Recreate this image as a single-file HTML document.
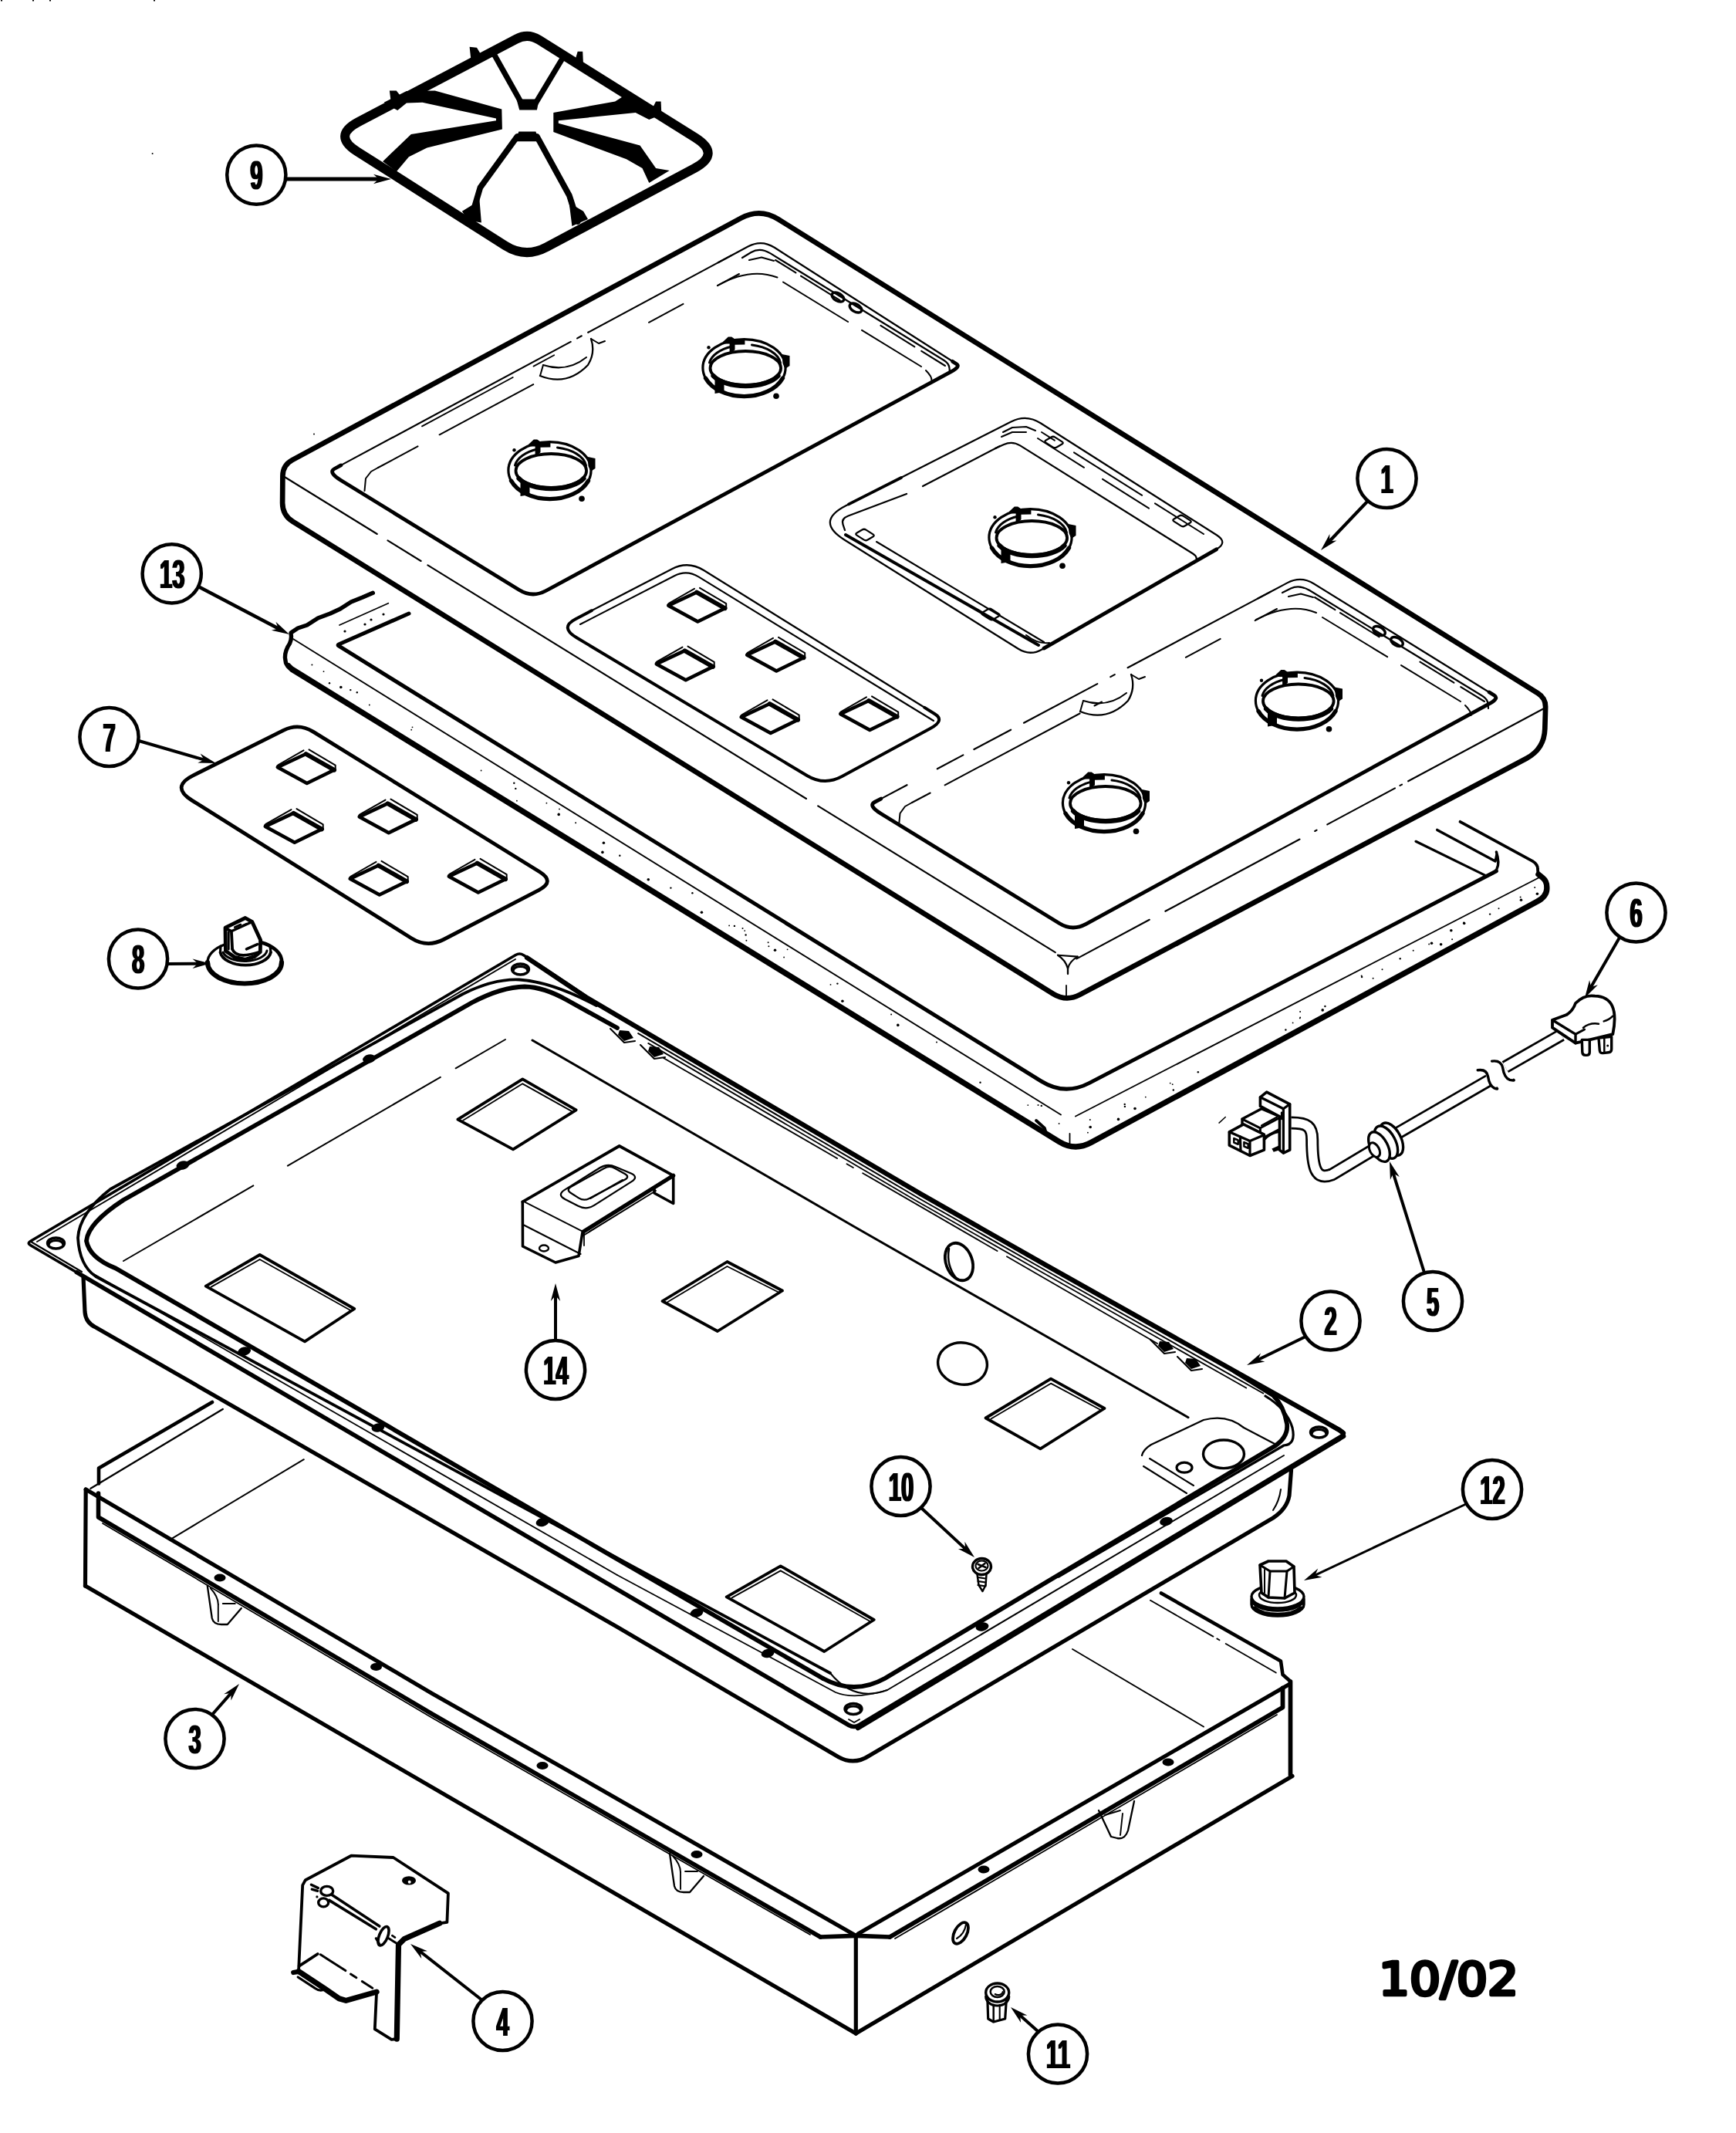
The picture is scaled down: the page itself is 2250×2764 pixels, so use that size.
<!DOCTYPE html>
<html><head><meta charset="utf-8"><title>Cooktop parts diagram</title>
<style>
html,body{margin:0;padding:0;background:#fff}
svg{display:block}
.lb{font-family:"Liberation Sans","DejaVu Sans",sans-serif;font-weight:bold;font-size:52px;fill:#000}
.dt{font-family:"DejaVu Sans","Liberation Sans",sans-serif;font-weight:normal;font-size:58px;fill:#000;stroke:#000;stroke-width:4.4;stroke-linejoin:round;stroke-linecap:round}
path,ellipse{stroke-linecap:round;stroke-linejoin:round}
</style></head><body>
<svg width="2250" height="2764" viewBox="0 0 2250 2764">
<defs><filter id="fat" x="-10%" y="-10%" width="120%" height="120%"><feMorphology operator="dilate" radius="1.3 0.3"/></filter></defs>
<rect width="2250" height="2764" fill="#fff"/>
<path d="M669.1 50.6 Q684.2 42.7 698.6 51.7 L901.1 178.3 Q935 199.5 899.7 218.3 L708.3 320.3 Q680.9 334.9 654.7 318.3 L462.8 196.2 Q430.7 175.8 464.3 158.1 Z" fill="none" stroke="#000" stroke-width="12" />
<path d="M608.6 60.8 L618 61.7 L625.4 74.1 L610.7 79.9 Z" fill="#000"/>
<path d="M504.9 117.5 L513.7 117.5 L522.5 128.4 L507 134.3 Z" fill="#000"/>
<path d="M748.7 66.7 L755.2 66.7 L756.1 85.8 L744.3 81.4 Z" fill="#000"/>
<path d="M850.1 131.4 L856.6 131.4 L857.4 149 L844.2 143.1 Z" fill="#000"/>
<path d="M640 69.7 L676.2 134.3 L693.8 134.3 L728.2 77" fill="none" stroke="#000" stroke-width="7.2" />
<path d="M669.4 128.4 L698.8 128.4 L695.9 142.5 L673.2 142.5 Z" fill="#000"/>
<path d="M609.8 285.6 L622.4 243 L670.3 176.9 L695.9 176.9 L737.9 253.3 L748.7 287.1" fill="none" stroke="#000" stroke-width="7.7" />
<path d="M672.4 170.4 L694.4 170.4 L698.8 183.3 L667.4 183.3 Z" fill="#000"/>
<path d="M598.9 273.8 L618 262.1 L625.4 235.6 L621 253.3 L623.9 288.5 L606.3 285.6 Z" fill="#000"/>
<path d="M734.1 247.4 L741.4 265 L756.1 273.8 L762 284.1 L741.4 292.9 L737.9 265 Z" fill="#000"/>
<path d="M563.7 117.5 L650.3 141.6 L650.9 167.5 L553.4 191.6 L529.9 203.3 L513.7 222.4 L496.1 209.2 L532.8 173.9 L643 156.3 L643 153.4 L547.5 132.8 L526.9 133.4 L515.2 143.1 L497.6 132.8 L526.9 118.1 Z" fill="#000"/>
<path d="M717.3 146 L797.2 131.4 L809 124 L856 149 L841.3 154.9 L823.7 146 L723.8 156.3 L723.8 159.8 L829.5 188.6 L850.1 218 L867.7 221 L841.3 237.1 L832.5 218 L811.9 206.3 L717.3 171 Z" fill="#000"/>
<path d="M366.4 616.7 Q366.5 602.7 378.8 596.1 L960.4 282.6 Q985 269.3 1008.8 284.1 L1993.3 898.4 Q2003.5 904.8 2003.1 916.8 L2002.3 944.5 Q2001.5 970.5 1978.5 982.7 L1399.7 1288.9 Q1382 1298.3 1365 1287.8 L379.6 675.9 Q366 667.5 366.1 651.5 Z" fill="none" stroke="#000" stroke-width="6.7" />
<path d="M368 617.5 L488.8 692" fill="none" stroke="#000" stroke-width="2.1" />
<path d="M502.5 700.4 L545.6 727" fill="none" stroke="#000" stroke-width="2.1" />
<path d="M554.4 732.4 L1045 1035" fill="none" stroke="#000" stroke-width="2.1" />
<path d="M1060.2 1044.4 L1367.8 1234.1" fill="none" stroke="#000" stroke-width="2.1" />
<path d="M2003 917 L1825.1 1012.3" fill="none" stroke="#000" stroke-width="2.1" />
<path d="M1817 1016.6 L1814.5 1017.9" fill="none" stroke="#000" stroke-width="2.1" />
<path d="M1808 1021.4 L1720.3 1068.4" fill="none" stroke="#000" stroke-width="2.1" />
<path d="M1706.6 1075.7 L1704.2 1077" fill="none" stroke="#000" stroke-width="2.1" />
<path d="M1684.5 1087.5 L1510.4 1180.8" fill="none" stroke="#000" stroke-width="2.1" />
<path d="M1489.8 1191.8 L1395.4 1242.4" fill="none" stroke="#000" stroke-width="2.1" />
<path d="M1384 1254 L1384 1262" fill="none" stroke="#000" stroke-width="2.3" />
<path d="M1382 1277 L1382 1290" fill="none" stroke="#000" stroke-width="1.8" />
<path d="M1371 1237.7 L1396.6 1239.6" fill="none" stroke="#000" stroke-width="2.1" />
<path d="M1371 1237.7 Q1381 1244 1384 1255 Q1386 1246 1396.6 1239.6" fill="none" stroke="#000" stroke-width="2.2"/>
<path d="M441.9 602.9 L433.4 607.5 Q425 612 442 622.5 L673 764.5 Q690 775 707.6 765.5 L1232.7 481.7 Q1245 475 1239.8 471.7 L1234.7 468.4 " fill="none" stroke="#000" stroke-width="4.8"/>
<path d="M441.9 602.9 L739.7 442.9" fill="none" stroke="#000" stroke-width="2.2" />
<path d="M748.1 438.4 L753.8 435.3" fill="none" stroke="#000" stroke-width="2.2" />
<path d="M762.2 430.8 L947.7 331.1" fill="none" stroke="#000" stroke-width="2.2" />
<path d="M930.8 340.2 L969.4 319.5 Q987 310 1003.8 320.8 L1237.3 470 " fill="none" stroke="#000" stroke-width="2.2"/>
<path d="M962 334 L973.5 327 Q985 320 998.6 328.4 L1223.2 466.8 Q1230 471 1230.5 477 L1231 483 " fill="none" stroke="#000" stroke-width="2.2"/>
<path d="M1005 337 L1031.4 353.4" fill="none" stroke="#000" stroke-width="2.1" />
<path d="M1038 357.6 L1088.6 389.1" fill="none" stroke="#000" stroke-width="2.1" />
<path d="M1141.4 421.9 L1185.4 449.3" fill="none" stroke="#000" stroke-width="2.1" />
<path d="M1194.2 454.8 L1225 474" fill="none" stroke="#000" stroke-width="2.1" />
<path d="M971 337 L987 333.5 L1003 338" fill="none" stroke="#000" stroke-width="2.1" />
<path d="M472.5 636 L474 620 L481 611 L490 606" fill="none" stroke="#000" stroke-width="2" />
<path d="M490 606 L541.5 578.4" fill="none" stroke="#000" stroke-width="2" />
<path d="M569.6 563.3 L691.2 498.1" fill="none" stroke="#000" stroke-width="2" />
<path d="M841 417.8 L885.5 393.9" fill="none" stroke="#000" stroke-width="2" />
<path d="M929.9 370.1 L958 355" fill="none" stroke="#000" stroke-width="2" />
<path d="M930 370 Q972 346 1007.5 359.5" fill="none" stroke="#000" stroke-width="2"/>
<path d="M1015 365.5 L1099.1 417" fill="none" stroke="#000" stroke-width="2" />
<path d="M1117 427.9 L1194 475" fill="none" stroke="#000" stroke-width="2" />
<path d="M1200 480 Q1208 488 1207.5 493" fill="none" stroke="#000" stroke-width="2"/>
<path d="M547 552.4 L664.7 489" fill="none" stroke="#000" stroke-width="1.8" />
<path d="M691.5 474.6 L718.2 460.2" fill="none" stroke="#000" stroke-width="1.8" />
<ellipse cx="712.5" cy="609.6" rx="53.6" ry="37" fill="none" stroke="#000" stroke-width="3.2" />
<path d="M662.5 623 A53.6 37 0 0 0 762.5 623" fill="none" stroke="#000" stroke-width="5.4"/>
<path d="M667.5 603 A47 27 0 0 1 696.5 582" fill="none" stroke="#000" stroke-width="3"/>
<path d="M722.5 580 A47 27 0 0 1 759.5 603" fill="none" stroke="#000" stroke-width="3"/>
<ellipse cx="714.3" cy="610" rx="45.8" ry="22" fill="none" stroke="#000" stroke-width="3.8" />
<path d="M672.5 620 A45.8 22 0 0 0 756.5 620" fill="none" stroke="#000" stroke-width="6.2"/>
<path d="M684.9 575.9 L691.8 569.4 L696.2 569.4 L701.4 572.9 L713.4 572.9 L713.4 579.4 L700.5 579.8 L700.5 586.3 L696.2 589.7 L693.6 589.7 L693.6 578.5 L688.4 578.5 Z" fill="#000"/>
<path d="M761.5 592 L771.5 594 L771.5 607 L765.5 611 L762.5 604 Z" fill="#000"/>
<path d="M674.5 625 L686.5 629 L686.5 641 L674.5 643 Z" fill="#000"/>
<circle cx="754" cy="646.3" r="3.8" fill="#000"/>
<circle cx="666.5" cy="583.3" r="2.2" fill="#000"/>
<ellipse cx="964.5" cy="476.6" rx="53.6" ry="37" fill="none" stroke="#000" stroke-width="3.2" />
<path d="M914.5 490 A53.6 37 0 0 0 1014.5 490" fill="none" stroke="#000" stroke-width="5.4"/>
<path d="M919.5 470 A47 27 0 0 1 948.5 449" fill="none" stroke="#000" stroke-width="3"/>
<path d="M974.5 447 A47 27 0 0 1 1011.5 470" fill="none" stroke="#000" stroke-width="3"/>
<ellipse cx="966.3" cy="477" rx="45.8" ry="22" fill="none" stroke="#000" stroke-width="3.8" />
<path d="M924.5 487 A45.8 22 0 0 0 1008.5 487" fill="none" stroke="#000" stroke-width="6.2"/>
<path d="M936.9 442.9 L943.8 436.4 L948.2 436.4 L953.4 439.9 L965.4 439.9 L965.4 446.4 L952.5 446.8 L952.5 453.3 L948.2 456.7 L945.6 456.7 L945.6 445.5 L940.4 445.5 Z" fill="#000"/>
<path d="M1013.5 459 L1023.5 461 L1023.5 474 L1017.5 478 L1014.5 471 Z" fill="#000"/>
<path d="M926.5 492 L938.5 496 L938.5 508 L926.5 510 Z" fill="#000"/>
<circle cx="1006" cy="513.3" r="3.8" fill="#000"/>
<circle cx="918.5" cy="450.3" r="2.2" fill="#000"/>
<path d="M700 487 Q735 501 762 473 Q772 457 766 439" fill="none" stroke="#000" stroke-width="2.3"/>
<path d="M704 473 Q735 483 760 463" fill="none" stroke="#000" stroke-width="2.1"/>
<path d="M766 439 L776 445 L784 442" fill="none" stroke="#000" stroke-width="2" />
<path d="M700 487 L704 473" fill="none" stroke="#000" stroke-width="2" />
<ellipse cx="1086" cy="385" rx="8.5" ry="5" fill="none" stroke="#000" stroke-width="3.4" transform="rotate(30 1086 385)" />
<ellipse cx="1109" cy="399" rx="8.5" ry="5" fill="none" stroke="#000" stroke-width="3.4" transform="rotate(30 1109 399)" />
<path d="M1094.4 699.5 Q1056.3 675.6 1096.4 655.2 L1310.4 546.5 Q1330 536.5 1348.6 548.3 L1576.8 693.3 Q1592 703 1576.4 712 L1350.6 841.4 Q1335 850.4 1319.8 840.8 Z" fill="none" stroke="#000" stroke-width="2.3"/>
<path d="M1576.6 711.8 L1353 840.1" fill="none" stroke="#000" stroke-width="4.8" />
<path d="M1100 653.4 L1168 619" fill="none" stroke="#000" stroke-width="3.8" />
<path d="M1095 687 L1092.5 679.5 Q1090 672 1099.4 668.5 L1175 640 " fill="none" stroke="#000" stroke-width="2.3"/>
<path d="M1196 630 L1296 578" fill="none" stroke="#000" stroke-width="2.2" />
<path d="M1290 581 L1301.1 576 Q1312 571 1322.2 577.4 L1545.8 717.3 Q1550 720 1550.5 722.5 L1551 725 " fill="none" stroke="#000" stroke-width="2.3"/>
<path d="M1096 693 L1346 836" fill="none" stroke="#000" stroke-width="4" />
<path d="M1136 702 L1353 832" fill="none" stroke="#000" stroke-width="2.1" />
<path d="M1330 823 Q1345 835 1360 833" fill="none" stroke="#000" stroke-width="2.1"/>
<path d="M1350 560 L1366.8 570.6" fill="none" stroke="#000" stroke-width="2" />
<path d="M1392 586.4 L1480.2 641.8" fill="none" stroke="#000" stroke-width="2" />
<path d="M1497 652.4 L1560 692" fill="none" stroke="#000" stroke-width="2" />
<path d="M1345 568 L1405 605.8" fill="none" stroke="#000" stroke-width="2" />
<path d="M1429 620.9 L1489 658.7" fill="none" stroke="#000" stroke-width="2" />
<path d="M1300 560 L1312 554 L1330 553 L1342 558" fill="none" stroke="#000" stroke-width="2" />
<path d="M1298 566 L1312 560 L1330 560" fill="none" stroke="#000" stroke-width="2" />
<path d="M1355.5 573.6 Q1353 572 1355.6 570.5 L1362.4 566.5 Q1365 565 1367.5 566.6 L1376.5 572.4 Q1379 574 1376.4 575.5 L1369.6 579.5 Q1367 581 1364.5 579.4 Z" fill="none" stroke="#000" stroke-width="2.3" />
<path d="M1521.5 675.6 Q1519 674 1521.6 672.5 L1528.4 668.5 Q1531 667 1533.5 668.6 L1542.5 674.4 Q1545 676 1542.4 677.5 L1535.6 681.5 Q1533 683 1530.5 681.4 Z" fill="none" stroke="#000" stroke-width="2.3" />
<path d="M1110.5 693.6 Q1108 692 1110.6 690.5 L1117.4 686.5 Q1120 685 1122.5 686.6 L1131.5 692.4 Q1134 694 1131.4 695.5 L1124.6 699.5 Q1122 701 1119.5 699.4 Z" fill="none" stroke="#000" stroke-width="2.3" />
<path d="M1273.5 796.6 Q1271 795 1273.6 793.5 L1280.4 789.5 Q1283 788 1285.5 789.6 L1294.5 795.4 Q1297 797 1294.4 798.5 L1287.6 802.5 Q1285 804 1282.5 802.4 Z" fill="none" stroke="#000" stroke-width="2.3" />
<ellipse cx="1335.5" cy="696.6" rx="53.6" ry="37" fill="none" stroke="#000" stroke-width="3.2" />
<path d="M1285.5 710 A53.6 37 0 0 0 1385.5 710" fill="none" stroke="#000" stroke-width="5.4"/>
<path d="M1290.5 690 A47 27 0 0 1 1319.5 669" fill="none" stroke="#000" stroke-width="3"/>
<path d="M1345.5 667 A47 27 0 0 1 1382.5 690" fill="none" stroke="#000" stroke-width="3"/>
<ellipse cx="1337.3" cy="697" rx="45.8" ry="22" fill="none" stroke="#000" stroke-width="3.8" />
<path d="M1295.5 707 A45.8 22 0 0 0 1379.5 707" fill="none" stroke="#000" stroke-width="6.2"/>
<path d="M1307.9 662.9 L1314.8 656.4 L1319.2 656.4 L1324.4 659.9 L1336.4 659.9 L1336.4 666.4 L1323.5 666.8 L1323.5 673.3 L1319.2 676.7 L1316.6 676.7 L1316.6 665.5 L1311.4 665.5 Z" fill="#000"/>
<path d="M1384.5 679 L1394.5 681 L1394.5 694 L1388.5 698 L1385.5 691 Z" fill="#000"/>
<path d="M1297.5 712 L1309.5 716 L1309.5 728 L1297.5 730 Z" fill="#000"/>
<circle cx="1377" cy="733.3" r="3.8" fill="#000"/>
<circle cx="1289.5" cy="670.3" r="2.2" fill="#000"/>
<path d="M1141.8 1035.1 L1133.4 1039.5 Q1125 1044 1142 1054.5 L1373 1196.5 Q1390 1207 1407.6 1197.4 L1930.7 911.7 Q1943 905 1936.6 901 L1930.2 897 " fill="none" stroke="#000" stroke-width="4.8"/>
<path d="M1141.8 1035.1 L1175.5 1017.2" fill="none" stroke="#000" stroke-width="2.2" />
<path d="M1214.8 996.3 L1248.4 978.4" fill="none" stroke="#000" stroke-width="2.2" />
<path d="M1262.4 971 L1310.1 945.7" fill="none" stroke="#000" stroke-width="2.2" />
<path d="M1327 936.7 L1422.3 886.1" fill="none" stroke="#000" stroke-width="2.2" />
<path d="M1439.2 877.1 L1444.8 874.1" fill="none" stroke="#000" stroke-width="2.2" />
<path d="M1461.6 865.2 L1646.7 766.9" fill="none" stroke="#000" stroke-width="2.2" />
<path d="M1629.9 775.8 L1668.3 755.4 Q1686 746 1703 756.5 L1935.3 900.2 " fill="none" stroke="#000" stroke-width="2.2"/>
<path d="M1662 768 L1673 762.5 Q1684 757 1697.7 765.3 L1921.2 901.8 Q1928 906 1928.5 912 L1929 918 " fill="none" stroke="#000" stroke-width="2.2"/>
<path d="M1704 774 L1730.4 790.2" fill="none" stroke="#000" stroke-width="2.1" />
<path d="M1737 794.2 L1787.6 825.3" fill="none" stroke="#000" stroke-width="2.1" />
<path d="M1840.4 857.7 L1884.4 884.7" fill="none" stroke="#000" stroke-width="2.1" />
<path d="M1893.2 890.1 L1924 909" fill="none" stroke="#000" stroke-width="2.1" />
<path d="M1670 773 L1686 769.5 L1702 774" fill="none" stroke="#000" stroke-width="2.1" />
<path d="M1165 1070 L1166.5 1054 L1173 1045 L1182 1040" fill="none" stroke="#000" stroke-width="2" />
<path d="M1182 1040 L1205.7 1027.5" fill="none" stroke="#000" stroke-width="2" />
<path d="M1224.6 1017.4 L1399.6 924.5" fill="none" stroke="#000" stroke-width="2" />
<path d="M1418.5 914.5 L1428 909.5" fill="none" stroke="#000" stroke-width="2" />
<path d="M1536.8 851.8 L1581.7 827.9" fill="none" stroke="#000" stroke-width="2" />
<path d="M1626.6 804.1 L1655 789" fill="none" stroke="#000" stroke-width="2" />
<path d="M1628 803 Q1672 780 1706 794" fill="none" stroke="#000" stroke-width="2"/>
<path d="M1714 800 L1798.1 851.2" fill="none" stroke="#000" stroke-width="2" />
<path d="M1816 862.1 L1893 909" fill="none" stroke="#000" stroke-width="2" />
<path d="M1899 914 Q1907 922 1906.5 927" fill="none" stroke="#000" stroke-width="2"/>
<ellipse cx="1431" cy="1040.6" rx="53.6" ry="37" fill="none" stroke="#000" stroke-width="3.2" />
<path d="M1381 1054 A53.6 37 0 0 0 1481 1054" fill="none" stroke="#000" stroke-width="5.4"/>
<path d="M1386 1034 A47 27 0 0 1 1415 1013" fill="none" stroke="#000" stroke-width="3"/>
<path d="M1441 1011 A47 27 0 0 1 1478 1034" fill="none" stroke="#000" stroke-width="3"/>
<ellipse cx="1432.8" cy="1041" rx="45.8" ry="22" fill="none" stroke="#000" stroke-width="3.8" />
<path d="M1391 1051 A45.8 22 0 0 0 1475 1051" fill="none" stroke="#000" stroke-width="6.2"/>
<path d="M1403.4 1006.9 L1410.3 1000.4 L1414.7 1000.4 L1419.9 1003.9 L1431.9 1003.9 L1431.9 1010.4 L1419 1010.8 L1419 1017.3 L1414.7 1020.7 L1412.1 1020.7 L1412.1 1009.5 L1406.9 1009.5 Z" fill="#000"/>
<path d="M1480 1023 L1490 1025 L1490 1038 L1484 1042 L1481 1035 Z" fill="#000"/>
<path d="M1393 1056 L1405 1060 L1405 1072 L1393 1074 Z" fill="#000"/>
<circle cx="1472.5" cy="1077.3" r="3.8" fill="#000"/>
<circle cx="1385" cy="1014.3" r="2.2" fill="#000"/>
<ellipse cx="1681" cy="908.1" rx="53.6" ry="37" fill="none" stroke="#000" stroke-width="3.2" />
<path d="M1631 921.5 A53.6 37 0 0 0 1731 921.5" fill="none" stroke="#000" stroke-width="5.4"/>
<path d="M1636 901.5 A47 27 0 0 1 1665 880.5" fill="none" stroke="#000" stroke-width="3"/>
<path d="M1691 878.5 A47 27 0 0 1 1728 901.5" fill="none" stroke="#000" stroke-width="3"/>
<ellipse cx="1682.8" cy="908.5" rx="45.8" ry="22" fill="none" stroke="#000" stroke-width="3.8" />
<path d="M1641 918.5 A45.8 22 0 0 0 1725 918.5" fill="none" stroke="#000" stroke-width="6.2"/>
<path d="M1653.4 874.4 L1660.3 867.9 L1664.7 867.9 L1669.9 871.4 L1681.9 871.4 L1681.9 877.9 L1669 878.3 L1669 884.8 L1664.7 888.2 L1662.1 888.2 L1662.1 877 L1656.9 877 Z" fill="#000"/>
<path d="M1730 890.5 L1740 892.5 L1740 905.5 L1734 909.5 L1731 902.5 Z" fill="#000"/>
<path d="M1643 923.5 L1655 927.5 L1655 939.5 L1643 941.5 Z" fill="#000"/>
<circle cx="1722.5" cy="944.8" r="3.8" fill="#000"/>
<circle cx="1635" cy="881.8" r="2.2" fill="#000"/>
<path d="M1400 922 Q1435 936 1462 908 Q1472 892 1466 874" fill="none" stroke="#000" stroke-width="2.3"/>
<path d="M1404 908 Q1435 918 1460 898" fill="none" stroke="#000" stroke-width="2.1"/>
<path d="M1466 874 L1476 880 L1484 877" fill="none" stroke="#000" stroke-width="2" />
<path d="M1400 922 L1404 908" fill="none" stroke="#000" stroke-width="2" />
<ellipse cx="1787.5" cy="817.5" rx="8.5" ry="5" fill="none" stroke="#000" stroke-width="3.4" transform="rotate(30 1787.5 817.5)" />
<ellipse cx="1810.5" cy="831.5" rx="8.5" ry="5" fill="none" stroke="#000" stroke-width="3.4" transform="rotate(30 1810.5 831.5)" />
<path d="M766.7 791.3 L745.9 802.2 Q725 813 747.3 826.3 L1046.3 1005.2 Q1068.6 1018.5 1091.4 1006.1 L1205.7 944 Q1225 933.5 1211.7 925.2 L1198.3 916.9 " fill="none" stroke="#000" stroke-width="4"/>
<path d="M758.4 795.7 L870.5 737.4 Q891.8 726.3 912.2 739 L1208.3 923.1 " fill="none" stroke="#000" stroke-width="2.3"/>
<path d="M752 809 L874 746.2 Q890 738 905.3 747.4 L1210 934 " fill="none" stroke="#000" stroke-width="2.1"/>
<path d="M866.3 784.7 L903 767.5 L939.6 788.2 L904.3 805.5 Z" fill="none" stroke="#000" stroke-width="4.6" />
<path d="M903 767.5 L939.6 788.2" fill="none" stroke="#000" stroke-width="5.8" />
<path d="M867.3 785.7 Q863.8 783.7 867.3 781.5 L900 762.9" fill="none" stroke="#000" stroke-width="2"/>
<path d="M907 761.9 L941.2 782.2 L941.2 788.9" fill="none" stroke="#000" stroke-width="2" />
<path d="M850.8 860.4 L887.5 843.2 L924.1 863.9 L888.8 881.2 Z" fill="none" stroke="#000" stroke-width="4.6" />
<path d="M887.5 843.2 L924.1 863.9" fill="none" stroke="#000" stroke-width="5.8" />
<path d="M851.8 861.4 Q848.3 859.4 851.8 857.2 L884.5 838.6" fill="none" stroke="#000" stroke-width="2"/>
<path d="M891.5 837.6 L925.7 857.9 L925.7 864.6" fill="none" stroke="#000" stroke-width="2" />
<path d="M968.3 848.7 L1005 831.5 L1041.6 852.2 L1006.3 869.5 Z" fill="none" stroke="#000" stroke-width="4.6" />
<path d="M1005 831.5 L1041.6 852.2" fill="none" stroke="#000" stroke-width="5.8" />
<path d="M969.3 849.7 Q965.8 847.7 969.3 845.5 L1002 826.9" fill="none" stroke="#000" stroke-width="2"/>
<path d="M1009 825.9 L1043.2 846.2 L1043.2 852.9" fill="none" stroke="#000" stroke-width="2" />
<path d="M960.8 929.2 L997.5 912 L1034.1 932.7 L998.8 950 Z" fill="none" stroke="#000" stroke-width="4.6" />
<path d="M997.5 912 L1034.1 932.7" fill="none" stroke="#000" stroke-width="5.8" />
<path d="M961.8 930.2 Q958.3 928.2 961.8 926 L994.5 907.4" fill="none" stroke="#000" stroke-width="2"/>
<path d="M1001.5 906.4 L1035.7 926.7 L1035.7 933.4" fill="none" stroke="#000" stroke-width="2" />
<path d="M1089.3 925.2 L1126 908 L1162.6 928.7 L1127.3 946 Z" fill="none" stroke="#000" stroke-width="4.6" />
<path d="M1126 908 L1162.6 928.7" fill="none" stroke="#000" stroke-width="5.8" />
<path d="M1090.3 926.2 Q1086.8 924.2 1090.3 922 L1123 903.4" fill="none" stroke="#000" stroke-width="2"/>
<path d="M1130 902.4 L1164.2 922.7 L1164.2 929.4" fill="none" stroke="#000" stroke-width="2" />
<path d="M483.3 768.3 L470 774 L455 780 L441 789 L428 795 L412 801 L398 810 L386 814 L377 820 Q379 830 373 838 Q368 848 370 856 Q370 862 378 867" fill="none" stroke="#000" stroke-width="5.4"/>
<path d="M374 863 L378 867 L1372.6 1479.4 Q1393 1492 1414.1 1480.6 L1992.2 1168.3 Q2004.5 1161.6 2004.8 1151.8 L2004.8 1150 Q2005 1142 1999.5 1137.5 L1994 1133 " fill="none" stroke="#000" stroke-width="7.4"/>
<path d="M1892.5 1064.8 L1986.3 1115.9 Q1993 1120 1993 1126 L1993.5 1133" fill="none" stroke="#000" stroke-width="3.8"/>
<path d="M380 828 L1375 1444.5" fill="none" stroke="#000" stroke-width="1.9" />
<path d="M1394 1446.5 L1999 1135" fill="none" stroke="#000" stroke-width="1.9" />
<path d="M1386.5 1469 L1386.5 1481" fill="none" stroke="#000" stroke-width="1.8" />
<path d="M1343 1452 L1354 1462 L1355.4 1467" fill="none" stroke="#000" stroke-width="3.8" />
<path d="M530 795 L439 835 Q437.2 835.8 438.9 836.9 L1349.4 1401 Q1380 1420 1411.9 1403.4 L1939.4 1128.7 " fill="none" stroke="#000" stroke-width="5"/>
<path d="M440 810 L503.3 781.7" fill="none" stroke="#000" stroke-width="1.8" />
<circle cx="447" cy="818" r="1.6" fill="#000"/>
<circle cx="473" cy="809" r="1.6" fill="#000"/>
<circle cx="481" cy="803" r="1.6" fill="#000"/>
<circle cx="497" cy="796" r="1.6" fill="#000"/>
<path d="M1862.7 1075.4 L1938 1116 Q1941 1105 1939.4 1104 Q1944 1118 1940 1126 Q1936 1133 1927 1135" fill="none" stroke="#000" stroke-width="3.4"/>
<path d="M1835 1090.3 L1926.6 1135.1" fill="none" stroke="#000" stroke-width="3.2" />
<circle cx="708.4" cy="1040.7" r="0.9" fill="#000"/>
<circle cx="454.3" cy="894.1" r="1.2" fill="#000"/>
<circle cx="967.4" cy="1218.8" r="1" fill="#000"/>
<circle cx="419.5" cy="870.2" r="0.9" fill="#000"/>
<circle cx="623.6" cy="998.5" r="0.9" fill="#000"/>
<circle cx="1214" cy="1350.6" r="1" fill="#000"/>
<circle cx="1016.1" cy="1240.5" r="0.9" fill="#000"/>
<circle cx="962.5" cy="1203" r="1" fill="#000"/>
<circle cx="427" cy="885.3" r="1.2" fill="#000"/>
<circle cx="803.3" cy="1108.7" r="1.2" fill="#000"/>
<circle cx="945.1" cy="1199.4" r="0.9" fill="#000"/>
<circle cx="966.6" cy="1211.5" r="1.2" fill="#000"/>
<circle cx="478.8" cy="913.5" r="0.9" fill="#000"/>
<circle cx="1004.5" cy="1231.3" r="1.8" fill="#000"/>
<circle cx="1163.8" cy="1328.4" r="1.8" fill="#000"/>
<circle cx="746.1" cy="1066.3" r="1" fill="#000"/>
<circle cx="1085.4" cy="1274.6" r="1.2" fill="#000"/>
<circle cx="909.4" cy="1182.3" r="1.8" fill="#000"/>
<circle cx="669.9" cy="1037.7" r="0.9" fill="#000"/>
<circle cx="897.4" cy="1157.2" r="1.2" fill="#000"/>
<circle cx="534.5" cy="942.3" r="0.9" fill="#000"/>
<circle cx="1349.8" cy="1432.9" r="1.2" fill="#000"/>
<circle cx="724.2" cy="1055.4" r="1.8" fill="#000"/>
<circle cx="965.2" cy="1206.1" r="0.9" fill="#000"/>
<circle cx="1332.3" cy="1432.1" r="0.9" fill="#000"/>
<circle cx="441.8" cy="890.5" r="1.8" fill="#000"/>
<circle cx="668.3" cy="1021.9" r="1.2" fill="#000"/>
<circle cx="404.4" cy="861.6" r="1" fill="#000"/>
<circle cx="996.4" cy="1226.2" r="1" fill="#000"/>
<circle cx="1155.1" cy="1314.6" r="1" fill="#000"/>
<circle cx="780.9" cy="1104.4" r="1.8" fill="#000"/>
<circle cx="462.8" cy="897.2" r="1.2" fill="#000"/>
<circle cx="1270.5" cy="1402.8" r="1.2" fill="#000"/>
<circle cx="1091.9" cy="1297.2" r="1.8" fill="#000"/>
<circle cx="1345.5" cy="1432.1" r="1" fill="#000"/>
<circle cx="533.2" cy="945.7" r="0.9" fill="#000"/>
<circle cx="869.4" cy="1150.6" r="1.2" fill="#000"/>
<circle cx="666.3" cy="1014.7" r="1.2" fill="#000"/>
<circle cx="995.6" cy="1221.3" r="1" fill="#000"/>
<circle cx="1076.5" cy="1275.9" r="0.9" fill="#000"/>
<circle cx="840.3" cy="1139.7" r="1.8" fill="#000"/>
<circle cx="782.4" cy="1092.2" r="1.8" fill="#000"/>
<circle cx="1020.6" cy="1230.3" r="0.9" fill="#000"/>
<circle cx="1372.6" cy="1456" r="0.9" fill="#000"/>
<circle cx="725" cy="1048.4" r="0.9" fill="#000"/>
<circle cx="951.9" cy="1199.9" r="1.2" fill="#000"/>
<circle cx="1764.7" cy="1264.6" r="1" fill="#000"/>
<circle cx="1765.1" cy="1266" r="1.2" fill="#000"/>
<circle cx="1971.5" cy="1166.2" r="1.8" fill="#000"/>
<circle cx="1471" cy="1436.5" r="1.8" fill="#000"/>
<circle cx="1685.1" cy="1311.1" r="1" fill="#000"/>
<circle cx="1457.7" cy="1430.9" r="1.2" fill="#000"/>
<circle cx="1684.8" cy="1319.4" r="0.9" fill="#000"/>
<circle cx="1520.8" cy="1412.5" r="1.2" fill="#000"/>
<circle cx="1484.8" cy="1421.6" r="0.9" fill="#000"/>
<circle cx="1852.1" cy="1223.5" r="0.9" fill="#000"/>
<circle cx="1814.7" cy="1242.3" r="1.2" fill="#000"/>
<circle cx="1942.5" cy="1177.2" r="1" fill="#000"/>
<circle cx="1717.4" cy="1304" r="1.2" fill="#000"/>
<circle cx="1779.6" cy="1267.7" r="1" fill="#000"/>
<circle cx="1882.1" cy="1217.3" r="1" fill="#000"/>
<circle cx="1516.7" cy="1403.6" r="0.9" fill="#000"/>
<circle cx="1992.4" cy="1158.2" r="1.8" fill="#000"/>
<circle cx="1552.8" cy="1389.3" r="1.2" fill="#000"/>
<circle cx="1666.4" cy="1334.5" r="1.2" fill="#000"/>
<circle cx="1970.6" cy="1162.6" r="1" fill="#000"/>
<circle cx="1457.9" cy="1433.9" r="1.2" fill="#000"/>
<circle cx="1519.7" cy="1405.2" r="0.9" fill="#000"/>
<circle cx="1685.2" cy="1318.4" r="0.9" fill="#000"/>
<circle cx="1897.7" cy="1196.5" r="1.8" fill="#000"/>
<circle cx="1867.6" cy="1223.7" r="1.8" fill="#000"/>
<circle cx="1931.1" cy="1184.6" r="1.2" fill="#000"/>
<circle cx="1449.5" cy="1450.4" r="1.8" fill="#000"/>
<circle cx="1675.6" cy="1325.4" r="0.9" fill="#000"/>
<circle cx="1831.7" cy="1231.7" r="1" fill="#000"/>
<circle cx="1413.2" cy="1460.5" r="1.8" fill="#000"/>
<circle cx="1880.8" cy="1205.7" r="1.8" fill="#000"/>
<circle cx="1791.5" cy="1256.2" r="1" fill="#000"/>
<circle cx="1409.9" cy="1467.7" r="0.9" fill="#000"/>
<circle cx="1714.2" cy="1308.9" r="1.8" fill="#000"/>
<circle cx="1989.2" cy="1150.1" r="1" fill="#000"/>
<circle cx="1412.8" cy="1451" r="1" fill="#000"/>
<circle cx="1855.5" cy="1222.3" r="1.8" fill="#000"/>
<circle cx="1897.3" cy="1195.6" r="1.2" fill="#000"/>
<path d="M367.4 946.3 Q387.1 936.5 405.8 948.1 L699.4 1129.7 Q719.8 1142.3 698.5 1153.3 L574.8 1217.5 Q553.5 1228.5 533.2 1215.7 L248.7 1037.1 Q220.8 1019.6 250.3 1004.8 Z" fill="none" stroke="#000" stroke-width="4.8" />
<path d="M359.8 994.2 L396.5 977 L433.1 997.7 L397.8 1015 Z" fill="none" stroke="#000" stroke-width="4.6" />
<path d="M396.5 977 L433.1 997.7" fill="none" stroke="#000" stroke-width="5.8" />
<path d="M360.8 995.2 Q357.3 993.2 360.8 991 L393.5 972.4" fill="none" stroke="#000" stroke-width="2"/>
<path d="M400.5 971.4 L434.7 991.7 L434.7 998.4" fill="none" stroke="#000" stroke-width="2" />
<path d="M343.8 1070.9 L380.5 1053.7 L417.1 1074.4 L381.8 1091.7 Z" fill="none" stroke="#000" stroke-width="4.6" />
<path d="M380.5 1053.7 L417.1 1074.4" fill="none" stroke="#000" stroke-width="5.8" />
<path d="M344.8 1071.9 Q341.3 1069.9 344.8 1067.7 L377.5 1049.1" fill="none" stroke="#000" stroke-width="2"/>
<path d="M384.5 1048.1 L418.7 1068.4 L418.7 1075.1" fill="none" stroke="#000" stroke-width="2" />
<path d="M465.8 1058.4 L502.5 1041.2 L539.1 1061.9 L503.8 1079.2 Z" fill="none" stroke="#000" stroke-width="4.6" />
<path d="M502.5 1041.2 L539.1 1061.9" fill="none" stroke="#000" stroke-width="5.8" />
<path d="M466.8 1059.4 Q463.3 1057.4 466.8 1055.2 L499.5 1036.6" fill="none" stroke="#000" stroke-width="2"/>
<path d="M506.5 1035.6 L540.7 1055.9 L540.7 1062.6" fill="none" stroke="#000" stroke-width="2" />
<path d="M453.8 1138.7 L490.5 1121.5 L527.1 1142.2 L491.8 1159.5 Z" fill="none" stroke="#000" stroke-width="4.6" />
<path d="M490.5 1121.5 L527.1 1142.2" fill="none" stroke="#000" stroke-width="5.8" />
<path d="M454.8 1139.7 Q451.3 1137.7 454.8 1135.5 L487.5 1116.9" fill="none" stroke="#000" stroke-width="2"/>
<path d="M494.5 1115.9 L528.7 1136.2 L528.7 1142.9" fill="none" stroke="#000" stroke-width="2" />
<path d="M581.8 1135.7 L618.5 1118.5 L655.1 1139.2 L619.8 1156.5 Z" fill="none" stroke="#000" stroke-width="4.6" />
<path d="M618.5 1118.5 L655.1 1139.2" fill="none" stroke="#000" stroke-width="5.8" />
<path d="M582.8 1136.7 Q579.3 1134.7 582.8 1132.5 L615.5 1113.9" fill="none" stroke="#000" stroke-width="2"/>
<path d="M622.5 1112.9 L656.7 1133.2 L656.7 1139.9" fill="none" stroke="#000" stroke-width="2" />
<path d="M269 1247 A48 27.5 0 0 0 365 1247" fill="none" stroke="#000" stroke-width="6.2"/>
<path d="M269 1247 A48 27.5 0 0 1 291 1224" fill="none" stroke="#000" stroke-width="3.4"/>
<path d="M365 1247 A48 27.5 0 0 0 338 1221" fill="none" stroke="#000" stroke-width="4.7"/>
<path d="M285.5 1234 A33 19 0 0 0 351 1234" fill="none" stroke="#000" stroke-width="3.8"/>
<path d="M289 1234 A29 15 0 0 0 346 1232" fill="none" stroke="#000" stroke-width="3"/>
<path d="M285.5 1234 L286 1226 M351 1234 L350 1226" fill="none" stroke="#000" stroke-width="3.2"/>
<path d="M292 1202.2 L317.9 1189.5 L326.9 1194.7 L337.6 1217.9 L337.3 1233.7 L329.9 1239.6 L317.9 1243.4 L304.4 1240.4 L292.4 1232.2 Z" fill="#fff" stroke="#000" stroke-width="4.8" />
<path d="M299.9 1206.7 L324.6 1195.5" fill="none" stroke="#000" stroke-width="3.2" />
<path d="M292.7 1203.2 L299.9 1206.7 L301.1 1229.9" fill="none" stroke="#000" stroke-width="3.8" />
<path d="M301.1 1229.9 Q305.9 1243.4 335.9 1233.7" fill="none" stroke="#000" stroke-width="3.8"/>
<path d="M296.2 1208.2 L296.2 1229.9" fill="none" stroke="#000" stroke-width="3" />
<path d="M304.4 1201.5 L311.9 1198.2" fill="none" stroke="#000" stroke-width="3" />
<path d="M314.9 1199.2 L319.4 1197" fill="none" stroke="#000" stroke-width="2.5" />
<path d="M319.4 1229.9 L333.6 1223.6" fill="none" stroke="#000" stroke-width="3.4" />
<path d="M110 1655 L39.3 1613.5 Q35 1611 39.3 1608.5 L668.3 1237.5 Q673.5 1234.5 678.6 1237.7 L700 1251 L760 1291 " fill="none" stroke="#000" stroke-width="3.6"/>
<path d="M48 1609 L668 1243" fill="none" stroke="#000" stroke-width="1.9" />
<path d="M683 1241 L760 1292.5 L1194 1547.5 L1356.7 1640 L1736 1853 L1741 1857" fill="none" stroke="#000" stroke-width="6.2"/>
<path d="M1725 1847 L1737.9 1854.5 Q1744 1858 1738 1861.6 L1113.9 2235.4 Q1107 2239.5 1100.1 2235.5 L99.3 1648.7 " fill="none" stroke="#000" stroke-width="5.6"/>
<path d="M1741 1861 L1112 2239" fill="none" stroke="#000" stroke-width="6.6" />
<path d="M40 1609 L106 1648" fill="none" stroke="#000" stroke-width="2.1" />
<path d="M1737 1866 L1676 1899" fill="none" stroke="#000" stroke-width="2.3" />
<path d="M1100 2228 L1107 2232 L1114 2228" fill="none" stroke="#000" stroke-width="1.9" />
<ellipse cx="72.5" cy="1611" rx="11" ry="7" fill="none" stroke="#000" stroke-width="3.4" />
<path d="M63.5 1612 A9 4.5 0 0 1 81.5 1612" fill="none" stroke="#000" stroke-width="3.2"/>
<ellipse cx="674.5" cy="1256" rx="11" ry="7" fill="none" stroke="#000" stroke-width="3.4" />
<path d="M665.5 1257 A9 4.5 0 0 1 683.5 1257" fill="none" stroke="#000" stroke-width="3.2"/>
<ellipse cx="1709.5" cy="1856" rx="11" ry="7" fill="none" stroke="#000" stroke-width="3.4" />
<path d="M1700.5 1857 A9 4.5 0 0 1 1718.5 1857" fill="none" stroke="#000" stroke-width="3.2"/>
<ellipse cx="1106" cy="2214.5" rx="11" ry="7" fill="none" stroke="#000" stroke-width="3.4" />
<path d="M1097 2215.5 A9 4.5 0 0 1 1115 2215.5" fill="none" stroke="#000" stroke-width="3.2"/>
<path d="M1076 2168 L124 1654 Q103 1640 101 1604 Q103 1572 143 1541 L600 1288 Q640 1268 673 1269.5 Q715 1272 773 1303" fill="none" stroke="#000" stroke-width="3.8"/>
<path d="M1066.7 2175 L150 1643.5 Q116 1630 112 1608 Q114 1585 160 1555 L612 1299 Q650 1279 680 1278.5 Q705 1279 735 1296 L800 1332" fill="none" stroke="#000" stroke-width="5.8"/>
<path d="M827.2 1339.1 L1191.2 1553 L1354 1645.5 L1637.2 1805.5" fill="none" stroke="#000" stroke-width="2" />
<path d="M840.2 1351.9 L1189.2 1557 L1352 1649.5 L1615.2 1798.5" fill="none" stroke="#000" stroke-width="1.8" />
<path d="M860 1371 L1085 1501" fill="none" stroke="#000" stroke-width="1.9" />
<path d="M1097.5 1508.2 L1105.8 1513" fill="none" stroke="#000" stroke-width="1.9" />
<path d="M1118.2 1520.2 L1292.5 1621" fill="none" stroke="#000" stroke-width="1.9" />
<path d="M1305 1628.2 L1500 1741" fill="none" stroke="#000" stroke-width="1.9" />
<path d="M1640 1809 Q1668 1826 1675 1850 Q1680 1872 1664 1873 L1372 2043" fill="none" stroke="#000" stroke-width="3.2"/>
<path d="M1600 1777 L1650 1808 Q1664 1822 1668 1845 Q1670 1862 1652 1874 L1146.7 2175 Q1107 2197 1066.7 2175" fill="none" stroke="#000" stroke-width="5.8"/>
<path d="M1076 2168 Q1107 2206 1150 2190 L1664 1886" fill="none" stroke="#000" stroke-width="2"/>
<path d="M800 2041 L1083 2193 Q1107 2203 1150 2190" fill="none" stroke="#000" stroke-width="1.8"/>
<path d="M120 1650 L800 2041" fill="none" stroke="#000" stroke-width="1.8" />
<path d="M803 1335 L815 1336 L821 1345 L809 1349 L801 1341 Z" fill="#000"/>
<path d="M791 1333 L801 1343 L809 1351 L823 1349" fill="none" stroke="#000" stroke-width="2.1" />
<path d="M842 1356 L854 1357 L860 1366 L848 1370 L840 1362 Z" fill="#000"/>
<path d="M830 1354 L840 1364 L848 1372 L862 1370" fill="none" stroke="#000" stroke-width="2.1" />
<path d="M1503 1738 L1515 1739 L1521 1748 L1509 1752 L1501 1744 Z" fill="#000"/>
<path d="M1491 1736 L1501 1746 L1509 1754 L1523 1752" fill="none" stroke="#000" stroke-width="2.1" />
<path d="M1538 1760 L1550 1761 L1556 1770 L1544 1774 L1536 1766 Z" fill="#000"/>
<path d="M1526 1758 L1536 1768 L1544 1776 L1558 1774" fill="none" stroke="#000" stroke-width="2.1" />
<ellipse cx="237" cy="1510" rx="8.5" ry="5.5" fill="#000" transform="rotate(-12 237 1510)"/>
<ellipse cx="703" cy="1972.5" rx="8.5" ry="5.5" fill="#000" transform="rotate(-12 703 1972.5)"/>
<ellipse cx="478.5" cy="1372" rx="8.5" ry="5.5" fill="#000" transform="rotate(-12 478.5 1372)"/>
<ellipse cx="316.7" cy="1751" rx="8.5" ry="5.5" fill="#000" transform="rotate(-12 316.7 1751)"/>
<ellipse cx="490" cy="1850" rx="8.5" ry="5.5" fill="#000" transform="rotate(-12 490 1850)"/>
<ellipse cx="903" cy="2090" rx="8.5" ry="5.5" fill="#000" transform="rotate(-12 903 2090)"/>
<ellipse cx="995" cy="2142.5" rx="8.5" ry="5.5" fill="#000" transform="rotate(-12 995 2142.5)"/>
<ellipse cx="1273" cy="2108" rx="8.5" ry="5.5" fill="#000" transform="rotate(-12 1273 2108)"/>
<ellipse cx="1511.5" cy="1971.5" rx="8.5" ry="5.5" fill="#000" transform="rotate(-12 1511.5 1971.5)"/>
<path d="M160 1634 L328.3 1536.4" fill="none" stroke="#000" stroke-width="2" />
<path d="M372.9 1510.6 L570.8 1395.8" fill="none" stroke="#000" stroke-width="2" />
<path d="M590.6 1384.3 L655 1347" fill="none" stroke="#000" stroke-width="2" />
<path d="M690 1348 L1107.5 1589.8 L1540 1836.7" fill="none" stroke="#000" stroke-width="3" />
<path d="M593.3 1450.7 L677.3 1398.3 L746.7 1438.3 L665 1489.3 Z" fill="none" stroke="#000" stroke-width="3.8" />
<path d="M600.3 1451.7 L677.3 1404.3 L741.7 1440.3" fill="none" stroke="#000" stroke-width="1.9" />
<path d="M266.7 1666.7 L336.7 1626 L459.3 1696 L395 1738.3 Z" fill="none" stroke="#000" stroke-width="3.8" />
<path d="M273.7 1667.7 L336.7 1632 L454.3 1698" fill="none" stroke="#000" stroke-width="1.9" />
<path d="M858.5 1686 L942.5 1635 L1014 1672.5 L930 1725 Z" fill="none" stroke="#000" stroke-width="3.8" />
<path d="M865.5 1687 L942.5 1641 L1009 1674.5" fill="none" stroke="#000" stroke-width="1.9" />
<path d="M1277.5 1837.5 L1362 1786.7 L1431.5 1825 L1348.4 1877.4 Z" fill="none" stroke="#000" stroke-width="3.8" />
<path d="M1284.5 1838.5 L1362 1792.7 L1426.5 1827" fill="none" stroke="#000" stroke-width="1.9" />
<path d="M941.7 2069.3 L1011.7 2029.3 L1132.7 2099 L1068.3 2140 Z" fill="none" stroke="#000" stroke-width="3.8" />
<path d="M948.7 2070.3 L1011.7 2035.3 L1127.7 2101" fill="none" stroke="#000" stroke-width="1.9" />
<ellipse cx="1243" cy="1635" rx="17" ry="25" fill="none" stroke="#000" stroke-width="3.8" transform="rotate(-20 1243 1635)" />
<path d="M1230 1618 Q1226 1640 1240 1657" fill="none" stroke="#000" stroke-width="2.5"/>
<ellipse cx="1247.5" cy="1767" rx="32" ry="27" fill="none" stroke="#000" stroke-width="3.4" transform="rotate(10 1247.5 1767)" />
<path d="M1480 1886 Q1482 1878 1492 1872 L1560 1840 Q1590 1832 1612 1850 L1654 1872" fill="none" stroke="#000" stroke-width="2.3"/>
<path d="M1490 1890 L1547 1925" fill="none" stroke="#000" stroke-width="2.1" />
<path d="M1482 1900 L1538 1935" fill="none" stroke="#000" stroke-width="2.1" />
<ellipse cx="1586" cy="1884.3" rx="26.5" ry="18.3" fill="none" stroke="#000" stroke-width="3.4" />
<ellipse cx="1535" cy="1901.7" rx="10" ry="6.5" fill="none" stroke="#000" stroke-width="3.2" />
<path d="M108 1655 L110 1700 Q111 1714 124 1720 L800 2108.3 L1086.7 2276.7 Q1107 2288 1126.7 2275 L1650 1967 Q1668 1955 1671 1938 L1673.5 1905" fill="none" stroke="#000" stroke-width="5.2"/>
<path d="M1660 1930 Q1658 1945 1650 1957" fill="none" stroke="#000" stroke-width="2"/>
<path d="M677.3 1557.3 L802.7 1485 L872.7 1523.3 L755 1596.7 Z" fill="#fff" stroke="#000" stroke-width="3.8" />
<path d="M872.7 1523.3 L755 1596.7" fill="none" stroke="#000" stroke-width="5.2" />
<path d="M677.3 1557.3 L677.5 1615 L720 1636 L750 1627.5 L755 1596.7" fill="#fff" stroke="#000" stroke-width="3.6" />
<path d="M679 1587.5 L752.5 1625" fill="none" stroke="#000" stroke-width="2.1" />
<ellipse cx="705" cy="1617.5" rx="6" ry="4" fill="none" stroke="#000" stroke-width="2.3" />
<path d="M872.7 1523.3 L872.7 1559.5 L848 1546 L848 1540" fill="none" stroke="#000" stroke-width="3.6" />
<path d="M756 1601 L850 1543" fill="none" stroke="#000" stroke-width="2" />
<path d="M757 1598 L757 1614" fill="none" stroke="#000" stroke-width="1.8" />
<path d="M732.3 1553.9 Q721.7 1548.3 731.8 1541.9 L776.6 1513.7 Q786.7 1507.3 797.7 1512 L817.3 1520.3 Q828.3 1525 818.2 1531.4 L770.1 1561.9 Q760 1568.3 749.4 1562.7 Z" fill="none" stroke="#000" stroke-width="2.3" />
<path d="M740 1546 Q733.3 1541.7 740.3 1537.8 L783 1513.9 Q790 1510 797 1513.9 L809.7 1521.1 Q816.7 1525 809.6 1528.7 L763.8 1553 Q756.7 1556.7 750 1552.4 Z" fill="none" stroke="#000" stroke-width="2.3" />
<path d="M765 1553 L807 1529" fill="none" stroke="#000" stroke-width="2.1" />
<path d="M111.2 1930 L560 2194.5 L760 2308 L1109.3 2508.3" fill="none" stroke="#000" stroke-width="5.2" />
<path d="M111.2 1930 L110.5 2055" fill="none" stroke="#000" stroke-width="5.2" />
<path d="M110.5 2055 L1109.3 2635" fill="none" stroke="#000" stroke-width="5.2" />
<path d="M1109.3 2508.3 L1109.3 2635" fill="none" stroke="#000" stroke-width="5.2" />
<path d="M1109.3 2635 L1675 2301.5" fill="none" stroke="#000" stroke-width="5.2" />
<path d="M1672.5 2179 L1672.5 2300" fill="none" stroke="#000" stroke-width="5.7" />
<path d="M1109.3 2508.3 L1153.3 2510" fill="none" stroke="#000" stroke-width="5.7" />
<path d="M1063.3 2510 L1109.3 2508.3" fill="none" stroke="#000" stroke-width="5.7" />
<path d="M1112 2506 L1671 2182.5" fill="none" stroke="#000" stroke-width="5.1" />
<path d="M1153.3 2510 L1662.5 2212.5 L1662.5 2187.5" fill="none" stroke="#000" stroke-width="5.8" />
<path d="M1160 2512 L1655 2222" fill="none" stroke="#000" stroke-width="1.8" />
<path d="M127.5 1935 L127.5 1966 L560 2221 L1063.3 2510" fill="none" stroke="#000" stroke-width="5.6" />
<path d="M133 1974 L560 2226 L1050 2507" fill="none" stroke="#000" stroke-width="1.7" />
<path d="M128 1922.5 L128 1902.5 L275 1817" fill="none" stroke="#000" stroke-width="4.6" />
<path d="M117.5 1928.8 L288.8 1826" fill="none" stroke="#000" stroke-width="2.3" />
<path d="M222.5 1993.8 L393.8 1891.2" fill="none" stroke="#000" stroke-width="2" />
<path d="M1505 2064.5 L1660 2152.5 L1662.5 2170 L1672.5 2178.8" fill="none" stroke="#000" stroke-width="4.6" />
<path d="M1491 2073.8 L1572.4 2120.6" fill="none" stroke="#000" stroke-width="1.9" />
<path d="M1577.3 2123.4 L1580.5 2125.3" fill="none" stroke="#000" stroke-width="1.9" />
<path d="M1588.7 2130 L1653.8 2167.5" fill="none" stroke="#000" stroke-width="1.9" />
<path d="M1390 2137 L1560 2237.5" fill="none" stroke="#000" stroke-width="1.9" />
<path d="M268.8 2055 L274.8 2097 Q276.8 2105 286.8 2105 L294.8 2105 L312.8 2084" fill="none" stroke="#000" stroke-width="2.3"/>
<path d="M282.8 2079 L282.8 2101" fill="none" stroke="#000" stroke-width="1.9" />
<path d="M288.8 2078 L304.8 2078" fill="none" stroke="#000" stroke-width="1.9" />
<path d="M272.8 2058 Q282.8 2069 282.8 2079" fill="none" stroke="#000" stroke-width="1.9"/>
<path d="M868 2402 L874 2444 Q876 2452 886 2452 L894 2452 L912 2431" fill="none" stroke="#000" stroke-width="2.3"/>
<path d="M882 2426 L882 2448" fill="none" stroke="#000" stroke-width="1.9" />
<path d="M888 2425 L904 2425" fill="none" stroke="#000" stroke-width="1.9" />
<path d="M872 2405 Q882 2416 882 2426" fill="none" stroke="#000" stroke-width="1.9"/>
<path d="M1470 2334 L1462 2372 Q1458 2384 1448 2382 L1440 2380 L1424 2346" fill="none" stroke="#000" stroke-width="2.3"/>
<path d="M1455 2350 L1452 2378" fill="none" stroke="#000" stroke-width="1.9" />
<path d="M1432 2352 L1452 2346" fill="none" stroke="#000" stroke-width="1.9" />
<ellipse cx="285" cy="2044.5" rx="7.5" ry="5" fill="#000"/>
<ellipse cx="487.5" cy="2160" rx="7.5" ry="5" fill="#000"/>
<ellipse cx="703" cy="2288" rx="7.5" ry="5" fill="#000"/>
<ellipse cx="903" cy="2403" rx="7.5" ry="5" fill="#000"/>
<ellipse cx="1275" cy="2422.5" rx="7.5" ry="5" fill="#000"/>
<ellipse cx="1514" cy="2283.5" rx="7.5" ry="5" fill="#000"/>
<ellipse cx="1245" cy="2505" rx="8" ry="15" fill="none" stroke="#000" stroke-width="3.8" transform="rotate(28 1245 2505)" />
<path d="M1240 2512 Q1250 2506 1252 2494" fill="none" stroke="#000" stroke-width="2.1"/>
<path d="M392.2 2442.9 L395.9 2436.2 L455.1 2404.7 L509.8 2407 L580.9 2453.4 L579.4 2490.8 L569.7 2492.3 L524 2512.5 L516.5 2520 L514.3 2642.1 L507.5 2642.8 L485.8 2629.4 L488.1 2580.7 L448.4 2591.9 L439.4 2589.7 L419.9 2576.2 L387 2554.5 Z" fill="#fff" stroke="#000" stroke-width="3.8" />
<path d="M569.7 2492.3 L524 2512.5 L516.5 2520 L514.3 2642.1" fill="none" stroke="#000" stroke-width="7.2" />
<path d="M387 2554.5 L419.9 2576.2 L439.4 2589.7 L448.4 2592.4 L488.1 2581.1" fill="none" stroke="#000" stroke-width="7.2" />
<path d="M387.7 2547.7 L411.7 2532" fill="none" stroke="#000" stroke-width="3.8" />
<path d="M415.4 2532.8 L447.8 2553.6" fill="none" stroke="#000" stroke-width="3" />
<path d="M454.5 2558 L461.9 2562.7" fill="none" stroke="#000" stroke-width="3" />
<path d="M469.3 2567.5 L482.8 2576.2" fill="none" stroke="#000" stroke-width="3" />
<path d="M380.2 2556 L387 2554.9" fill="none" stroke="#000" stroke-width="6.2" />
<path d="M386.2 2562 L407.9 2576.2 Q415.4 2581.4 420.7 2577.4" fill="none" stroke="#000" stroke-width="3.2"/>
<path d="M430.4 2455.6 L491.8 2496.1" fill="none" stroke="#000" stroke-width="3.6" />
<path d="M426.6 2462.4 L487.3 2499.8" fill="none" stroke="#000" stroke-width="3.6" />
<ellipse cx="423.7" cy="2450.4" rx="8" ry="6" fill="none" stroke="#000" stroke-width="3.4" />
<ellipse cx="419.2" cy="2465.4" rx="6.5" ry="5.5" fill="none" stroke="#000" stroke-width="3.4" />
<path d="M403.4 2442.2 L412.4 2446.6" fill="none" stroke="#000" stroke-width="3.4" />
<path d="M404.2 2448.1 L411.7 2450.4" fill="none" stroke="#000" stroke-width="3.2" />
<circle cx="410.9" cy="2457.9" r="1.6" fill="#000"/>
<ellipse cx="497" cy="2508.8" rx="5.5" ry="13" fill="none" stroke="#000" stroke-width="3.6" transform="rotate(22 497 2508.8)" />
<path d="M487.3 2511.8 L491.8 2519.3" fill="none" stroke="#000" stroke-width="3.2" />
<path d="M503.8 2511.8 L515.8 2519.3" fill="none" stroke="#000" stroke-width="3" />
<path d="M508.3 2508.1 L512 2510.6" fill="none" stroke="#000" stroke-width="2.5" />
<ellipse cx="530" cy="2436.9" rx="9" ry="5.7" fill="#000"/>
<circle cx="530.7" cy="2438.7" r="2" fill="#fff"/>
<path d="M1673.4 1455.1 C1695.1 1455.1 1700.7 1460.1 1700.7 1476.8 C1700.7 1513.5 1705.1 1530.2 1726.8 1521.8 L1783.5 1487.8" fill="none" stroke="#000" stroke-width="17" style="stroke-linecap:butt"/>
<path d="M1673.4 1455.1 C1695.1 1455.1 1700.7 1460.1 1700.7 1476.8 C1700.7 1513.5 1705.1 1530.2 1726.8 1521.8 L1783.5 1487.8" fill="none" stroke="#fff" stroke-width="11.5" style="stroke-linecap:butt"/>
<path d="M1810.2 1469.1 L1929.6 1400.1" fill="none" stroke="#000" stroke-width="17" style="stroke-linecap:butt"/>
<path d="M1810.2 1469.1 L1929.6 1400.1" fill="none" stroke="#fff" stroke-width="11.5" style="stroke-linecap:butt"/>
<path d="M1950.9 1382.7 L2023.6 1341.1" fill="none" stroke="#000" stroke-width="17" style="stroke-linecap:butt"/>
<path d="M1950.9 1382.7 L2023.6 1341.1" fill="none" stroke="#fff" stroke-width="11.5" style="stroke-linecap:butt"/>
<path d="M1915.2 1386.8 Q1926.9 1385.1 1928.6 1395.1 Q1930.2 1406.8 1936.9 1410.1 Q1941.9 1411.8 1940.2 1410.1" fill="none" stroke="#000" stroke-width="3.4"/>
<path d="M1933.6 1375.1 Q1945.2 1373.4 1947.6 1383.4 Q1949.6 1396.8 1956.9 1399.4 Q1963.6 1400.8 1961.9 1399.4" fill="none" stroke="#000" stroke-width="3.4"/>
<ellipse cx="1803.5" cy="1476.1" rx="12" ry="23" fill="#fff" stroke="#000" stroke-width="3.4" transform="rotate(-28 1803.5 1476.1)"/>
<ellipse cx="1796.5" cy="1480.1" rx="12" ry="23" fill="#fff" stroke="#000" stroke-width="3.4" transform="rotate(-28 1796.5 1480.1)"/>
<ellipse cx="1787.5" cy="1486.1" rx="11" ry="21" fill="#fff" stroke="#000" stroke-width="3.4" transform="rotate(-28 1787.5 1486.1)"/>
<ellipse cx="1781.5" cy="1490.1" rx="6" ry="10" fill="#fff" stroke="#000" stroke-width="3" transform="rotate(-28 1781.5 1490.1)"/>
<path d="M2012 1321.7 L2030.3 1315 Q2038.6 1310 2042 1300 Q2053.6 1288.4 2067 1290.7 Q2100.3 1291.7 2090.3 1340.1 L2060.3 1347.4 L2042 1351.7 L2012 1331.7 Z" fill="#fff" stroke="#000" stroke-width="3.8"/>
<path d="M2012 1321.7 L2042 1340.1 L2042 1351.7" fill="none" stroke="#000" stroke-width="3.4" />
<path d="M2042 1340.1 L2053.6 1334" fill="none" stroke="#000" stroke-width="3" />
<path d="M2052 1331.7 Q2060.3 1325 2072 1326.7" fill="none" stroke="#000" stroke-width="2.5"/>
<path d="M2078.7 1323.4 Q2085.3 1321.7 2090.3 1316.7" fill="none" stroke="#000" stroke-width="2.5"/>
<path d="M2050.3 1347.4 L2060.3 1347.4 L2060.3 1363.4 Q2060.3 1367.4 2056.3 1367.4 L2055 1367.4 Q2051 1367.4 2050.8 1363.4 Z" fill="#fff" stroke="#000" stroke-width="3.4" />
<path d="M2072 1345.1 L2088.7 1343.4 L2088.7 1359.4 Q2088.7 1363.4 2084.7 1363.8 L2077.6 1364.6 Q2073.7 1365.1 2073.3 1361.1 Z" fill="#fff" stroke="#000" stroke-width="3.4" />
<path d="M2079.3 1346.1 L2079.3 1364.1" fill="none" stroke="#000" stroke-width="2.5" />
<circle cx="2083.7" cy="1355.1" r="1.5" fill="#000"/>
<path d="M1633.4 1421.8 L1641.7 1415.1 L1671.7 1430.8 L1671.7 1490.2 L1663.4 1494.2 L1658.4 1490.2 L1658.4 1446.8 L1633.4 1433.4 Z" fill="#fff" stroke="#000" stroke-width="3.6" />
<path d="M1633.4 1421.8 L1663.4 1436.8 L1671.7 1430.8" fill="none" stroke="#000" stroke-width="3.2" />
<path d="M1663.4 1436.8 L1663.4 1493.5" fill="none" stroke="#000" stroke-width="3.2" />
<path d="M1661.1 1441.8 L1661.1 1450.1" fill="none" stroke="#000" stroke-width="2.5" />
<path d="M1610 1450.1 L1635 1436.8 L1658.4 1446.8 L1658.4 1463.5 L1633.4 1476.8 L1610 1465.1 Z" fill="#fff" stroke="#000" stroke-width="3.4" />
<path d="M1610 1450.1 L1633.4 1461.8 L1658.4 1448.5" fill="none" stroke="#000" stroke-width="3" />
<path d="M1633.4 1461.8 L1633.4 1476.8" fill="none" stroke="#000" stroke-width="3" />
<path d="M1635 1458.5 L1655.1 1447.5" fill="none" stroke="#000" stroke-width="2.3" />
<path d="M1593.3 1466.8 L1611.7 1456.8 L1638.4 1470.1 L1638.4 1490.2 L1620 1497.5 L1593.3 1484.1 Z" fill="#fff" stroke="#000" stroke-width="3.6" />
<path d="M1593.3 1466.8 L1620 1478.5 L1638.4 1470.8" fill="none" stroke="#000" stroke-width="3.2" />
<path d="M1620 1478.5 L1620 1497.5" fill="none" stroke="#000" stroke-width="3.2" />
<path d="M1607.4 1472.8 L1608 1490.8" fill="none" stroke="#000" stroke-width="3.2" />
<path d="M1599.3 1475.1 L1604.7 1477.5 L1604.7 1482.8 L1599.3 1480.5 Z" fill="none" stroke="#000" stroke-width="2.5" />
<path d="M1612.4 1480.1 L1617.7 1482.5 L1617.7 1487.8 L1612.4 1485.5 Z" fill="none" stroke="#000" stroke-width="2.5" />
<path d="M1638.4 1476.8 Q1645 1468.5 1658.4 1466.1 L1658.4 1478.5" fill="none" stroke="#000" stroke-width="3.2"/>
<path d="M1648.4 1488.5 L1658.4 1484.1 L1658.4 1490.2 L1650.7 1492.8 Z" fill="#000"/>
<path d="M1580 1455.1 L1588.3 1447.5" fill="none" stroke="#000" stroke-width="1.5" />
<ellipse cx="1272.5" cy="2030" rx="12" ry="10.5" fill="#fff" stroke="#000" stroke-width="3.4" />
<ellipse cx="1272.5" cy="2029" rx="8" ry="6.5" fill="none" stroke="#000" stroke-width="2.1" />
<path d="M1267.5 2027 L1277.5 2031" fill="none" stroke="#000" stroke-width="2.5" />
<path d="M1276.5 2026 L1268.5 2032" fill="none" stroke="#000" stroke-width="2.5" />
<path d="M1266.5 2040 L1268.5 2054 L1273.5 2062 L1277.5 2054" fill="none" stroke="#000" stroke-width="2.5"/>
<path d="M1278.5 2040 L1277.5 2054" fill="none" stroke="#000" stroke-width="2.5" />
<path d="M1267.5 2044 L1277.5 2045.5" fill="none" stroke="#000" stroke-width="2.1" />
<path d="M1267.5 2049 L1277.5 2050.5" fill="none" stroke="#000" stroke-width="2.1" />
<path d="M1267.5 2054 L1277.5 2055.5" fill="none" stroke="#000" stroke-width="2.1" />
<path d="M1622 2072 A34 15 0 0 0 1690 2072 L1690 2079 A34 15 0 0 1 1622 2079 Z" fill="#fff" stroke="#000" stroke-width="3.4"/>
<path d="M1626 2084 A34 16 0 0 0 1686 2084" fill="none" stroke="#000" stroke-width="5.2"/>
<ellipse cx="1656" cy="2069" rx="34" ry="15" fill="#fff" stroke="#000" stroke-width="3.4" />
<ellipse cx="1656" cy="2067" rx="24" ry="10" fill="none" stroke="#000" stroke-width="2.5" />
<path d="M1635 2064 L1633 2028 L1644 2023 L1667 2023 L1677 2030 L1678 2064 L1665 2071 L1644 2070 Z" fill="#fff" stroke="#000" stroke-width="3.6" />
<path d="M1633 2028 L1646 2036 L1668 2036 L1677 2030" fill="none" stroke="#000" stroke-width="3" />
<path d="M1646 2036 L1644 2070" fill="none" stroke="#000" stroke-width="3" />
<path d="M1668 2036 L1665 2071" fill="none" stroke="#000" stroke-width="3" />
<path d="M1639 2034 L1639 2064" fill="none" stroke="#000" stroke-width="2" />
<path d="M1279.7 2586 L1280.7 2616 L1287.7 2620 L1302.7 2616 L1304.7 2586" fill="#fff" stroke="#000" stroke-width="3.2" />
<path d="M1287.7 2598 L1287.7 2620" fill="none" stroke="#000" stroke-width="2.5" />
<path d="M1295.7 2598 L1295.7 2618" fill="none" stroke="#000" stroke-width="2.1" />
<path d="M1277.7 2587 A15 12 0 0 0 1307.7 2587" fill="none" stroke="#000" stroke-width="3.2"/>
<ellipse cx="1292.7" cy="2582" rx="15" ry="12" fill="#fff" stroke="#000" stroke-width="3.4" />
<ellipse cx="1292.7" cy="2581" rx="9" ry="7" fill="none" stroke="#000" stroke-width="2.5" />
<path d="M1289.7 2584 A6 4 0 0 0 1299.7 2581" fill="none" stroke="#000" stroke-width="2.1"/>
<path d="M370 232 L493.2 232" fill="none" stroke="#000" stroke-width="5" />
<path d="M507 232 L484 238.2 L490.9 232 L484 225.8 Z" fill="#000"/>
<path d="M1772 650 L1721.5 703" fill="none" stroke="#000" stroke-width="4.1" />
<path d="M1712 713 L1723.4 692.1 L1723.1 701.3 L1732.4 700.6 Z" fill="#000"/>
<path d="M257 760 L362.8 815.6" fill="none" stroke="#000" stroke-width="4.5" />
<path d="M375 822 L351.8 816.8 L360.7 814.5 L357.5 805.8 Z" fill="#000"/>
<path d="M180 960 L266.7 985.2" fill="none" stroke="#000" stroke-width="4" />
<path d="M280 989 L256.2 988.5 L264.5 984.5 L259.6 976.6 Z" fill="#000"/>
<path d="M217.5 1249 L258.7 1248.7" fill="none" stroke="#000" stroke-width="4" />
<path d="M272.5 1248.6 L249.5 1255 L256.4 1248.7 L249.5 1242.6 Z" fill="#000"/>
<path d="M2099 1215 L2060.9 1281" fill="none" stroke="#000" stroke-width="4" />
<path d="M2054 1293 L2060.1 1270 L2062 1279.1 L2070.9 1276.2 Z" fill="#000"/>
<path d="M1846 1649 L1805.1 1518.2" fill="none" stroke="#000" stroke-width="4" />
<path d="M1801 1505 L1813.8 1525.1 L1805.8 1520.4 L1801.9 1528.8 Z" fill="#000"/>
<path d="M1690 1733 L1628.4 1763" fill="none" stroke="#000" stroke-width="4" />
<path d="M1616 1769 L1634 1753.4 L1630.5 1762 L1639.4 1764.5 Z" fill="#000"/>
<path d="M720 1737 L720 1676.8" fill="none" stroke="#000" stroke-width="4" />
<path d="M720 1663 L726.2 1686 L720 1679.1 L713.8 1686 Z" fill="#000"/>
<path d="M1194 1954 L1252.9 2008.6" fill="none" stroke="#000" stroke-width="4" />
<path d="M1263 2018 L1241.9 2006.9 L1251.2 2007.1 L1250.4 1997.8 Z" fill="#000"/>
<path d="M1900 1949 L1702.5 2042.1" fill="none" stroke="#000" stroke-width="3" />
<path d="M1690 2048 L1708.2 2032.6 L1704.6 2041.1 L1713.4 2043.8 Z" fill="#000"/>
<path d="M274 2223 L300.9 2192.4" fill="none" stroke="#000" stroke-width="4" />
<path d="M310 2182 L299.5 2203.4 L299.4 2194.1 L290.2 2195.2 Z" fill="#000"/>
<path d="M625 2592 L542.9 2527.5" fill="none" stroke="#000" stroke-width="4" />
<path d="M532 2519 L553.9 2528.3 L544.7 2528.9 L546.3 2538.1 Z" fill="#000"/>
<path d="M1345 2632 L1320.3 2610.1" fill="none" stroke="#000" stroke-width="4" />
<path d="M1310 2601 L1331.3 2611.6 L1322.1 2611.7 L1323.1 2620.9 Z" fill="#000"/>
<circle cx="332.3" cy="226.6" r="38.1" fill="#fff" stroke="#000" stroke-width="4.5"/>
<circle cx="1797.5" cy="620" r="38.1" fill="#fff" stroke="#000" stroke-width="4.5"/>
<circle cx="222.7" cy="743.3" r="38.1" fill="#fff" stroke="#000" stroke-width="4.5"/>
<circle cx="141.5" cy="955" r="38.1" fill="#fff" stroke="#000" stroke-width="4.5"/>
<circle cx="179" cy="1242.5" r="38.1" fill="#fff" stroke="#000" stroke-width="4.5"/>
<circle cx="2120.5" cy="1182.5" r="38.1" fill="#fff" stroke="#000" stroke-width="4.5"/>
<circle cx="1857" cy="1686" r="38.1" fill="#fff" stroke="#000" stroke-width="4.5"/>
<circle cx="1724.5" cy="1711.5" r="38.1" fill="#fff" stroke="#000" stroke-width="4.5"/>
<circle cx="720" cy="1775" r="38.1" fill="#fff" stroke="#000" stroke-width="4.5"/>
<circle cx="1167.5" cy="1926" r="38.1" fill="#fff" stroke="#000" stroke-width="4.5"/>
<circle cx="1934" cy="1930" r="38.1" fill="#fff" stroke="#000" stroke-width="4.5"/>
<circle cx="252.5" cy="2253" r="38.1" fill="#fff" stroke="#000" stroke-width="4.5"/>
<circle cx="651.5" cy="2619" r="38.1" fill="#fff" stroke="#000" stroke-width="4.5"/>
<circle cx="1371" cy="2661.5" r="38.1" fill="#fff" stroke="#000" stroke-width="4.5"/>
<g filter="url(#fat)">
<text transform="translate(332.3,245.3) scale(0.56,1)" class="lb" text-anchor="middle">9</text>
<text transform="translate(1797.5,638.7) scale(0.56,1)" class="lb" text-anchor="middle">1</text>
<text transform="translate(223.2,762) scale(0.56,1)" class="lb" text-anchor="middle">13</text>
<text transform="translate(141.5,973.7) scale(0.56,1)" class="lb" text-anchor="middle">7</text>
<text transform="translate(179,1261.2) scale(0.56,1)" class="lb" text-anchor="middle">8</text>
<text transform="translate(2120.5,1201.2) scale(0.56,1)" class="lb" text-anchor="middle">6</text>
<text transform="translate(1857,1704.7) scale(0.56,1)" class="lb" text-anchor="middle">5</text>
<text transform="translate(1724.5,1730.2) scale(0.56,1)" class="lb" text-anchor="middle">2</text>
<text transform="translate(720.5,1793.7) scale(0.56,1)" class="lb" text-anchor="middle">14</text>
<text transform="translate(1168,1944.7) scale(0.56,1)" class="lb" text-anchor="middle">10</text>
<text transform="translate(1934.5,1948.7) scale(0.56,1)" class="lb" text-anchor="middle">12</text>
<text transform="translate(252.5,2271.7) scale(0.56,1)" class="lb" text-anchor="middle">3</text>
<text transform="translate(651.5,2637.7) scale(0.56,1)" class="lb" text-anchor="middle">4</text>
<text transform="translate(1371.5,2680.2) scale(0.56,1)" class="lb" text-anchor="middle">11</text>
</g>
<text x="1787" y="2585.3" class="dt" textLength="181" lengthAdjust="spacingAndGlyphs">10/02</text>
<rect x="1" y="0" width="2" height="1.5" fill="#000"/>
<rect x="42" y="0" width="2" height="1.5" fill="#000"/>
<rect x="64" y="0" width="2" height="1.5" fill="#000"/>
<rect x="199" y="0" width="2" height="1.5" fill="#000"/>
<circle cx="197.6" cy="199" r="1" fill="#000"/>
<circle cx="407" cy="562.5" r="1" fill="#000"/>
</svg></body></html>
